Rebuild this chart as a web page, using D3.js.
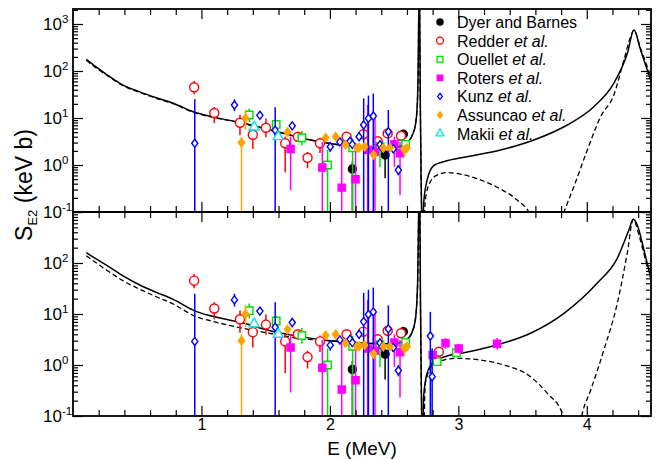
<!DOCTYPE html>
<html>
<head>
<meta charset="utf-8">
<script src="https://cdnjs.cloudflare.com/ajax/libs/d3/7.8.5/d3.min.js"></script>
<style>
  body { margin: 0; background: #fff; }
  svg { display: block; font-family: "Liberation Sans", Arial, Helvetica, sans-serif; }
</style>
</head>
<body>
<svg id="chart" width="660" height="459"></svg>
<script>
"use strict";

// measurements: [E (MeV), S (keV b), lower, upper]; lower 0 = bar runs below 0.1
var dyer = [[2.175, 0.82, 0, 1.2], [2.43, 1.63, 0.52, 2.1], [2.572, 4.5, 3.6, 5.6]];
var redder = [
  [0.943, 45, 32, 61], [1.10, 12.8, 7.8, 17], [1.30, 7.9, 4.3, 11.7], [1.40, 4.4, 2.2, 6.5],
  [1.502, 6.2, 3.9, 9.8], [1.652, 2.9, 0.69, 4.0], [1.751, 4.0, 3.4, 4.6], [1.826, 1.43, 0.85, 1.9],
  [1.923, 2.9, 1.8, 3.8], [2.13, 4.0, 3.3, 5.0], [2.26, 4.5, 3.6, 5.5], [2.372, 3.2, 1.77, 4.0],
  [2.45, 4.7, 3.8, 5.8], [2.554, 4.2, 3.4, 5.3], [2.848, 1.82, 1.5, 2.2]
];
var ouellet = [
  [1.372, 11.6, 8.2, 16], [1.582, 7.3, 6.0, 9.1], [1.782, 3.8, 2.6, 5.3], [1.982, 1.0, 0, 2.1],
  [2.177, 2.33, 0, 3.7], [2.39, 2.5, 0.9, 3.3], [2.59, 2.75, 2.3, 3.3], [2.835, 1.16, 1.0, 1.35],
  [2.985, 1.74, 1.5, 2.0]
];
var roters = [
  [1.694, 2.2, 0.29, 4.0], [1.941, 0.88, 0, 3.1], [2.092, 0.33, 0, 3.1], [2.2, 0.5, 0, 2.2],
  [2.294, 2.1, 0, 19], [2.351, 1.9, 0, 12.6], [2.502, 2.75, 0.92, 4.0], [2.546, 1.77, 0.23, 3.1],
  [2.80, 1.57, 1.3, 1.9], [2.90, 2.66, 2.1, 3.4], [3.003, 2.1, 1.7, 2.6], [3.302, 2.6, 2.0, 3.4]
];
var kunz = [
  [0.948, 2.9, 0, 25], [1.257, 18.9, 14, 25], [1.455, 11.4, 9.5, 13.6], [1.574, 5.5, 0, 17],
  [1.707, 6.8, 5.5, 8.3], [2.003, 2.45, 1.9, 3.1], [2.078, 3.1, 2.6, 3.7], [2.157, 3.2, 2.7, 3.8],
  [2.175, 2.75, 2.3, 3.3], [2.227, 4.0, 3.3, 4.8], [2.263, 7.1, 0, 26], [2.30, 9.8, 0, 30],
  [2.338, 11, 0, 33], [2.39, 2.7, 2.2, 3.2], [2.408, 2.3, 1.9, 2.8], [2.455, 5.1, 0, 14.8],
  [2.494, 2.2, 1.8, 2.7], [2.533, 0.78, 0.6, 1.0], [2.782, 3.7, 0, 11], [2.796, 0.59, 0, 2.1]
];
var assuncao = [
  [1.312, 3.0, 0, 4.0], [1.343, 10, 5.6, 14.9], [1.67, 5.0, 4.0, 6.0], [1.967, 3.8, 3.2, 4.5],
  [2.045, 4.0, 3.4, 4.7], [2.122, 2.7, 2.3, 3.2], [2.21, 2.3, 2.0, 2.7], [2.23, 2.35, 2.0, 2.8],
  [2.27, 2.45, 2.1, 2.9], [2.34, 1.65, 1.4, 1.95], [2.416, 2.3, 2.0, 2.7], [2.468, 2.3, 2.0, 2.7],
  [2.58, 2.1, 1.5, 2.6], [2.60, 2.3, 1.9, 2.8]
];
var makii = [[1.411, 6.4, 5.1, 7.9], [1.598, 4.0, 3.4, 5.0]];

// model curves: [E (MeV), S (keV b)]
var topSolid = [
  [0.104, 177], [0.18, 122], [0.26, 85], [0.39, 50], [0.52, 36], [0.649, 27], [0.78, 20.6],
  [0.948, 13.2], [1.078, 10.7], [1.30, 8.0], [1.50, 5.9], [1.67, 4.5], [1.77, 3.8], [1.925, 3.1],
  [2.08, 2.67], [2.29, 2.35], [2.45, 2.3], [2.55, 2.5], [2.60, 3.0], [2.64, 4.2], [2.665, 7],
  [2.68, 18], [2.688, 150], [2.693, 3000], [2.698, 3000], [2.704, 20], [2.71, 0.6], [2.716, 0.05],
  [2.72, 0.01], [2.73, 0.15], [2.757, 0.48], [2.808, 0.97], [2.886, 1.17], [3.068, 1.5],
  [3.328, 2.08], [3.588, 3.4], [3.848, 7.1], [4.055, 17.4], [4.211, 55], [4.316, 238],
  [4.367, 745], [4.419, 280], [4.471, 105], [4.518, 43]
];
var topDashed = [
  [0.104, 170], [0.18, 116], [0.26, 82], [0.39, 48.5], [0.52, 35], [0.649, 26.3], [0.78, 20.1],
  [0.948, 12.9], [1.078, 10.5], [1.30, 7.9], [1.50, 5.85], [1.67, 4.45], [1.77, 3.8], [1.925, 3.1],
  [2.08, 2.67], [2.29, 2.35], [2.45, 2.3], [2.55, 2.5], [2.60, 3.0], [2.64, 4.2], [2.665, 7],
  [2.68, 18], [2.688, 150], [2.693, 3000], [2.698, 3000], [2.704, 20], [2.71, 0.6], [2.716, 0.05],
  [2.722, 0.01], [2.743, 0.18], [2.782, 0.44], [2.835, 0.61], [2.913, 0.69], [3.016, 0.64],
  [3.172, 0.48], [3.328, 0.31], [3.458, 0.18], [3.549, 0.1], [3.68, 0.01], [3.822, 0.1],
  [3.90, 0.35], [4.004, 2.08], [4.108, 10.7], [4.211, 31], [4.289, 170], [4.341, 537],
  [4.367, 745], [4.419, 300], [4.471, 123], [4.518, 50]
];
var bottomSolid = [
  [0.104, 159], [0.18, 120], [0.26, 91], [0.39, 56], [0.52, 37], [0.649, 26.6], [0.78, 19.4],
  [0.948, 11.5], [1.078, 9.1], [1.33, 6.6], [1.55, 4.6], [1.77, 3.6], [2.0, 3.0], [2.2, 2.75],
  [2.42, 2.6], [2.55, 2.75], [2.60, 3.2], [2.63, 3.9], [2.665, 7.6], [2.683, 40], [2.690, 600],
  [2.694, 3000], [2.699, 3000], [2.705, 20], [2.711, 0.6], [2.716, 0.05], [2.721, 0.01],
  [2.73, 0.24], [2.757, 0.69], [2.808, 1.16], [2.912, 1.5], [3.042, 1.74], [3.30, 2.47],
  [3.562, 4.2], [3.82, 10.2], [4.08, 40], [4.237, 123], [4.328, 444], [4.362, 720],
  [4.393, 556], [4.445, 180], [4.51, 37]
];
var bottomDashed = [
  [0.104, 139], [0.18, 101], [0.26, 73], [0.39, 45], [0.52, 30.5], [0.649, 21.8], [0.78, 15.7],
  [0.948, 9.1], [1.078, 7.3], [1.33, 5.2], [1.55, 4.1], [1.77, 3.3], [2.0, 3.0], [2.2, 2.75],
  [2.42, 2.6], [2.55, 2.75], [2.60, 3.2], [2.63, 3.9], [2.665, 7.6], [2.683, 40], [2.690, 600],
  [2.694, 3000], [2.699, 3000], [2.705, 20], [2.711, 0.6], [2.716, 0.05], [2.724, 0.01],
  [2.743, 0.44], [2.808, 1.05], [2.886, 1.25], [2.99, 1.35], [3.172, 1.25], [3.354, 1.0],
  [3.562, 0.59], [3.692, 0.28], [3.809, 0.113], [3.89, 0.01], [3.965, 0.113], [4.03, 0.32],
  [4.133, 1.97], [4.237, 16], [4.315, 155], [4.362, 720], [4.406, 354], [4.458, 115], [4.51, 46]
];

var xTickLabels = [1, 2, 3, 4];
var topExponents = [-1, 0, 1, 2, 3];
var bottomExponents = [-1, 0, 1, 2];

var diamond = {
    draw: function (ctx, size) {
        var r = Math.sqrt(size) / 2;
        ctx.moveTo(0, -r * 1.25);
        ctx.lineTo(r * 0.95, 0);
        ctx.lineTo(0, r * 1.25);
        ctx.lineTo(-r * 0.95, 0);
        ctx.closePath();
    }
};

var series = [
    { name: "Dyer and Barnes", etal: false, data: dyer, color: "#000000", type: d3.symbolCircle, size: 50, filled: true },
    { name: "Redder", etal: true, data: redder, color: "#ff0000", type: d3.symbolCircle, size: 64, filled: false },
    { name: "Ouellet", etal: true, data: ouellet, color: "#00dd00", type: d3.symbolSquare, size: 55, filled: false },
    { name: "Roters", etal: true, data: roters, color: "#ff00ff", type: d3.symbolSquare, size: 50, filled: true },
    { name: "Kunz", etal: true, data: kunz, color: "#0000ff", type: diamond, size: 42, filled: false },
    { name: "Assuncao", etal: true, data: assuncao, color: "#ffa500", type: diamond, size: 45, filled: true },
    { name: "Makii", etal: true, data: makii, color: "#00e5ee", type: d3.symbolTriangle, size: 45, filled: false }
];

var svg = d3.select("#chart");
var left = 73, right = 651;
var x = d3.scaleLinear().domain([0, 4.5]).range([left, right]);

var panels = [
    { y: d3.scaleLog().domain([0.1, 2085]).range([212, 9]), solid: topSolid, dashed: topDashed,
      maxE: 2.7, exps: topExponents, id: "clipTop" },
    { y: d3.scaleLog().domain([0.1, 1000]).range([416, 212]), solid: bottomSolid, dashed: bottomDashed,
      maxE: 5, exps: bottomExponents, id: "clipBottom" }
];

var xMinor = d3.range(0, 4.51, 0.2).map(function (d) { return Math.round(d * 10) / 10; })
    .filter(function (d) { return d % 1 !== 0; });
var xMajor = [1, 2, 3, 4];

panels.forEach(function (p, pi) {
    var y = p.y;
    var y0 = y.range()[0], y1 = y.range()[1];

    svg.append("clipPath").attr("id", p.id)
        .append("rect").attr("x", left).attr("y", y1).attr("width", right - left).attr("height", y0 - y1);

    var plot = svg.append("g").attr("clip-path", "url(#" + p.id + ")");

    // model curves
    var line = d3.line()
        .x(function (d) { return x(d[0]); })
        .y(function (d) { return y(d[1]); })
        .curve(d3.curveMonotoneX);
    plot.append("path").datum(p.dashed)
        .attr("d", line).attr("fill", "none").attr("stroke", "#000")
        .attr("stroke-width", 1.3).attr("stroke-dasharray", "5,3");
    plot.append("path").datum(p.solid)
        .attr("d", line).attr("fill", "none").attr("stroke", "#000").attr("stroke-width", 1.5);

    // measurements
    series.forEach(function (s) {
        var pts = s.data.filter(function (d) { return d[0] < p.maxE; });
        var g = plot.append("g");
        g.selectAll("line").data(pts).enter().append("line")
            .attr("x1", function (d) { return x(d[0]); })
            .attr("x2", function (d) { return x(d[0]); })
            .attr("y1", function (d) { return y(d[3]); })
            .attr("y2", function (d) { return d[2] > 0 ? y(d[2]) : y0 + 2; })
            .attr("stroke", s.color).attr("stroke-width", 1.5);
        g.selectAll("path").data(pts).enter().append("path")
            .attr("d", d3.symbol().type(s.type).size(s.size))
            .attr("transform", function (d) { return "translate(" + x(d[0]) + "," + y(d[1]) + ")"; })
            .attr("fill", s.filled ? s.color : "#fff")
            .attr("stroke", s.color).attr("stroke-width", 1.4);
    });

    // axes, ticks inward on all sides
    var majorY = y.ticks().filter(function (d) { return Math.abs(Math.log10(d) - Math.round(Math.log10(d))) < 1e-9; });
    var minorY = y.ticks().filter(function (d) { return majorY.indexOf(d) < 0; });
    var axes = svg.append("g").attr("class", "axes");
    function put(axis, tx, ty) {
        var a = axes.append("g").attr("transform", "translate(" + tx + "," + ty + ")").call(axis);
        a.select(".domain").remove();
        a.selectAll("line").attr("stroke", "#000").attr("stroke-width", 1.2);
        return a;
    }
    put(d3.axisLeft(y).tickValues(majorY).tickSize(-10).tickFormat(""), left, 0);
    put(d3.axisLeft(y).tickValues(minorY).tickSize(-5).tickFormat(""), left, 0);
    put(d3.axisRight(y).tickValues(majorY).tickSize(-10).tickFormat(""), right, 0);
    put(d3.axisRight(y).tickValues(minorY).tickSize(-5).tickFormat(""), right, 0);
    put(d3.axisTop(x).tickValues(xMajor).tickSize(-10).tickFormat(""), 0, y1);
    put(d3.axisTop(x).tickValues(xMinor).tickSize(-6).tickFormat(""), 0, y1);
    put(d3.axisBottom(x).tickValues(xMajor).tickSize(-10).tickFormat(""), 0, y0);
    put(d3.axisBottom(x).tickValues(xMinor).tickSize(-6).tickFormat(""), 0, y0);

    // y tick labels, 10 with superscript exponent
    var lab = svg.append("g").attr("font-size", 17).attr("fill", "#000");
    p.exps.forEach(function (e) {
        var t = lab.append("text").attr("x", 43).attr("y", y(Math.pow(10, e)) + 6);
        t.append("tspan").text("10");
        t.append("tspan").attr("font-size", 11.5).attr("dy", -7).text(e < 0 ? "-" + (-e) : String(e));
    });

    if (pi === 1) {
        var xa = put(d3.axisBottom(x).tickValues(xTickLabels).tickSize(0).tickPadding(3)
            .tickFormat(d3.format("d")), 0, y0);
        xa.selectAll("text").attr("font-size", 16).attr("fill", "#000")
            .attr("font-family", "\"Liberation Sans\", Arial, sans-serif");
    }

    svg.append("rect").attr("x", left).attr("y", y1).attr("width", right - left).attr("height", y0 - y1)
        .attr("fill", "none").attr("stroke", "#000").attr("stroke-width", 1.8);
});

// axis titles
svg.append("text").attr("x", 362).attr("y", 455).attr("text-anchor", "middle")
    .attr("font-size", 19).text("E (MeV)");
var yt = svg.append("text").attr("transform", "translate(32,185) rotate(-90)")
    .attr("text-anchor", "middle").attr("font-size", 23);
yt.append("tspan").text("S");
yt.append("tspan").attr("font-size", 13).attr("dy", 5).text("E2");
yt.append("tspan").attr("dy", -5).text(" (keV b)");

// legend
var legend = svg.append("g").attr("transform", "translate(440,22)");
series.forEach(function (s, i) {
    var row = legend.append("g").attr("transform", "translate(0," + (i * 18.6) + ")");
    row.append("path")
        .attr("d", d3.symbol().type(s.type).size(s.size * 0.6))
        .attr("fill", s.filled ? s.color : "#fff")
        .attr("stroke", s.color).attr("stroke-width", 1.3);
    var t = row.append("text").attr("x", 17).attr("y", 6).attr("font-size", 16);
    t.append("tspan").text(s.name);
    if (s.etal) {
        t.append("tspan").text(" ");
        t.append("tspan").attr("font-style", "italic").text("et al.");
    }
});
</script>
</body>
</html>
